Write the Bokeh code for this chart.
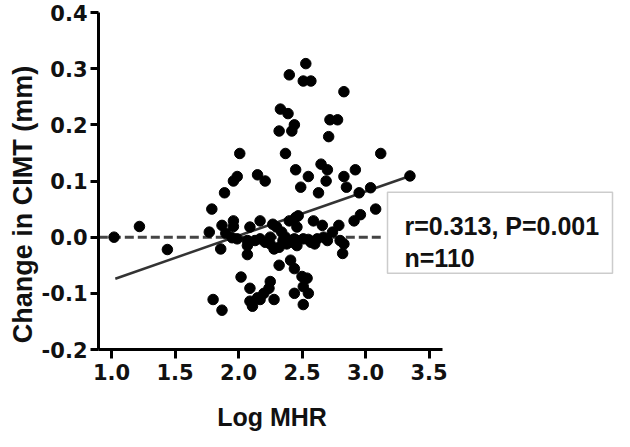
import math
from bokeh.plotting import figure
from bokeh.models import FixedTicker, Label, BoxAnnotation, Range1d, PrintfTickFormatter
from bokeh.embed import file_html
from bokeh.resources import INLINE

# ---------------- data ----------------
log_mhr = [
    1.02, 1.22, 1.44, 1.77, 1.79, 1.80, 1.87, 1.86, 1.89, 1.99,
    1.96, 2.01, 2.15, 2.21, 2.02, 1.87, 1.96, 1.96, 1.90, 1.95,
    1.99, 2.07, 2.07, 2.07, 2.09, 2.17, 2.17, 2.21, 2.25, 2.28,
    2.32, 2.27, 2.30, 2.34, 2.37, 2.38, 2.42, 2.40, 2.45, 2.46,
    2.46, 2.32, 2.41, 2.44, 2.09, 2.25, 2.24, 2.20, 2.15, 2.09,
    2.11, 2.28, 2.17, 2.50, 2.54, 2.51, 2.55, 2.44, 2.51, 2.53,
    2.40, 2.51, 2.57, 2.83, 2.33, 2.39, 2.44, 2.42, 2.32, 2.72,
    2.78, 2.71, 2.37, 3.12, 2.45, 2.55, 2.65, 2.70, 2.69, 2.83,
    2.92, 2.49, 2.63, 2.85, 2.95, 3.04, 3.08, 2.96, 2.91, 3.35,
    2.47, 2.59, 2.66, 2.79, 2.74, 2.67, 2.51, 2.57, 2.62, 2.80,
    2.83, 2.82, 2.44, 2.46, 2.55, 2.35, 2.60, 2.70, 2.25, 2.13,
]
cimt_change = [
    0.000, 0.019, -0.022, 0.009, 0.050, -0.111, -0.130, -0.021, 0.079, 0.108,
    0.100, 0.149, 0.111, 0.100, -0.071, 0.021, 0.029, 0.019, 0.007, -0.001,
    -0.003, -0.006, -0.015, -0.031, 0.018, 0.029, -0.003, -0.009, -0.012, -0.021,
    -0.018, 0.023, 0.018, 0.009, 0.000, -0.012, -0.009, 0.029, 0.035, 0.018,
    -0.015, -0.050, -0.041, -0.056, -0.091, -0.079, -0.091, -0.100, -0.108, -0.114,
    -0.123, -0.111, -0.111, -0.070, -0.073, -0.088, -0.100, -0.100, -0.120, 0.309,
    0.289, 0.278, 0.278, 0.259, 0.228, 0.220, 0.200, 0.189, 0.189, 0.209,
    0.209, 0.179, 0.149, 0.149, 0.120, 0.108, 0.130, 0.120, 0.100, 0.108,
    0.120, 0.089, 0.079, 0.089, 0.079, 0.088, 0.050, 0.040, 0.029, 0.109,
    0.038, 0.029, 0.021, 0.021, 0.009, 0.000, -0.003, -0.009, -0.003, -0.006,
    -0.012, -0.029, -0.003, -0.006, -0.004, -0.006, -0.012, -0.006, 0.000, -0.006,
]

x_ticks = [1.0, 1.5, 2.0, 2.5, 3.0, 3.5]
x_tick_labels = ["1.0", "1.5", "2.0", "2.5", "3.0", "3.5"]
y_ticks = [-0.2, -0.1, 0.0, 0.1, 0.2, 0.3, 0.4]
y_tick_labels = ["-0.2", "-0.1", "0.0", "0.1", "0.2", "0.3", "0.4"]

fit_x = [1.03, 3.35]          # regression line end points
fit_y = [-0.074, 0.109]
zero_x = [0.90, 3.12]         # dashed zero reference line
zero_y = [0.0, 0.0]

x_title = "Log MHR"
y_title = "Change in CIMT (mm)"
stats_lines = ["r=0.313, P=0.001", "n=110"]

# ---------------- layout (pixels of the picture) ----------------
W, H = 614, 431
PX_X1 = 111.0      # pixel of x = 1.0
PX_PER_X = 127.0
PY_TOP = 12.0      # pixel of y = 0.4
PY_BOT = 349.0     # pixel of y = -0.2
Y_LO, Y_HI = -0.2, 0.4
PX_PER_Y = (PY_BOT - PY_TOP) / (Y_HI - Y_LO)

def px2x(px):
    return 1.0 + (px - PX_X1) / PX_PER_X

def py2y(py):
    return Y_HI - (py - PY_TOP) / PX_PER_Y

AXIS_X = px2x(98)          # vertical axis position
AXIS_X_END = px2x(442)     # end of horizontal axis line

FONT = "Liberation Sans"
TICK_FONT = "DejaVu Sans"
INK = "#111111"

p = figure(width=W, height=H,
           x_range=Range1d(px2x(0), px2x(W)), y_range=Range1d(py2y(H), py2y(0)),
           output_backend="svg", toolbar_location=None,
           min_border_left=0, min_border_right=0, min_border_top=0, min_border_bottom=0)
p.outline_line_color = None
p.background_fill_color = "white"
p.border_fill_color = "white"
p.xgrid.visible = False
p.ygrid.visible = False

for ax in (p.xaxis[0], p.yaxis[0]):
    ax.axis_line_width = 3
    ax.axis_line_color = "black"
    ax.major_tick_line_width = 3
    ax.major_tick_line_color = "black"
    ax.major_tick_in = 0
    ax.minor_tick_line_color = None
    ax.major_label_text_font = TICK_FONT
    ax.major_label_text_font_style = "bold"
    ax.major_label_text_font_size = "21px"
    ax.major_label_text_color = INK
    ax.formatter = PrintfTickFormatter(format="%.1f")

xa = p.xaxis[0]
xa.ticker = FixedTicker(ticks=x_ticks)
xa.major_label_overrides = dict(zip(x_ticks, x_tick_labels))
xa.fixed_location = Y_LO
xa.bounds = (AXIS_X, AXIS_X_END)
xa.major_tick_out = 9
xa.major_label_standoff = 5

ya = p.yaxis[0]
ya.ticker = FixedTicker(ticks=y_ticks)
ya.major_label_overrides = dict(zip(y_ticks, y_tick_labels))
ya.fixed_location = AXIS_X
ya.bounds = (Y_LO, Y_HI)
ya.major_tick_out = 8
ya.major_label_standoff = 3

# reference line and regression line
p.line(zero_x, zero_y, line_color="#444444", line_width=3, line_dash="9 4")
p.line(fit_x, fit_y, line_color="#333333", line_width=2.5)

# points
p.scatter(log_mhr, cimt_change, size=10.5, color="black")

# axis titles
p.add_layout(Label(x=px2x(271.5), y=py2y(416), text=x_title, text_align="center",
                   text_baseline="alphabetic", text_font=FONT, text_font_style="bold",
                   text_font_size="25px", text_color=INK))
p.add_layout(Label(x=px2x(22), y=py2y(204), text=y_title, angle=math.pi / 2,
                   text_align="center", text_baseline="alphabetic", text_font=FONT,
                   text_font_style="bold", text_font_size="27px", text_color=INK))

# statistics box
p.add_layout(BoxAnnotation(left=px2x(387), right=px2x(612), top=py2y(191.7), bottom=py2y(272.7),
                           fill_color=None, fill_alpha=0, line_color="#555555",
                           line_width=1.5))
p.add_layout(Label(x=px2x(404), y=py2y(225), text=stats_lines[0], text_align="left",
                   text_baseline="alphabetic", text_font=FONT, text_font_style="bold",
                   text_font_size="25px", text_color=INK))
p.add_layout(Label(x=px2x(404), y=py2y(257), text=stats_lines[1], text_align="left",
                   text_baseline="alphabetic", text_font=FONT, text_font_style="bold",
                   text_font_size="25px", text_color=INK))

open("out.html", "w").write(file_html(p, INLINE))
